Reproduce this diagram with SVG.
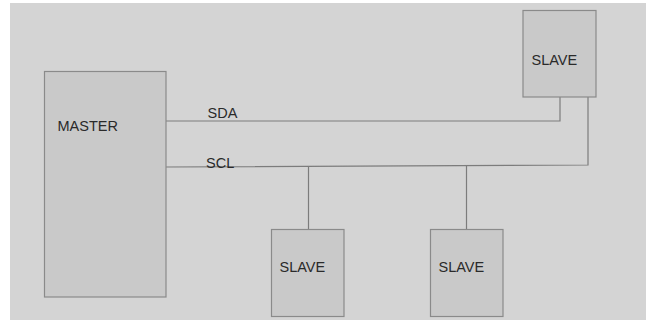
<svg xmlns="http://www.w3.org/2000/svg" width="646" height="320" viewBox="0 0 646 320">
  <style>
    .box { fill: #c9c9c9; stroke: #8a8a8a; stroke-width: 1.2; }
    .wire { fill: none; stroke: #7c7c7c; stroke-width: 1.2; }
    .lbl { font-family: "Liberation Sans", Arial, sans-serif; font-size: 14.5px; fill: #2a2a2a; }
  </style>
  <rect x="0" y="0" width="646" height="320" fill="#ffffff"/>
  <rect x="10" y="3" width="636" height="317" fill="#d4d4d4"/>

  <g id="connectors">
    <!-- SDA bus: master to top slave -->
    <polyline class="wire" points="166,121 560,121 560,97"/>
    <!-- SCL bus: master to top slave -->
    <polyline class="wire" points="166,167 588,165 588,95"/>
    <!-- SCL drops to lower slaves -->
    <line class="wire" x1="308.5" y1="166" x2="308.5" y2="229"/>
    <line class="wire" x1="466.5" y1="165.5" x2="466.5" y2="229"/>
    <text class="lbl" x="207.5" y="117.5">SDA</text>
    <text class="lbl" x="206" y="168">SCL</text>
  </g>

  <g id="master">
    <rect class="box" x="44.5" y="71.5" width="121.5" height="225.5"/>
    <text class="lbl" x="57.5" y="130.5">MASTER</text>
  </g>

  <g id="slave-top">
    <rect class="box" x="523" y="10.5" width="73" height="86.5"/>
    <text class="lbl" x="531.5" y="65">SLAVE</text>
  </g>

  <g id="slave-1">
    <rect class="box" x="271.5" y="229.5" width="72.5" height="87"/>
    <text class="lbl" x="279.5" y="271.5">SLAVE</text>
  </g>

  <g id="slave-2">
    <rect class="box" x="430.5" y="229.5" width="72.5" height="87"/>
    <text class="lbl" x="438.5" y="271.5">SLAVE</text>
  </g>
</svg>
